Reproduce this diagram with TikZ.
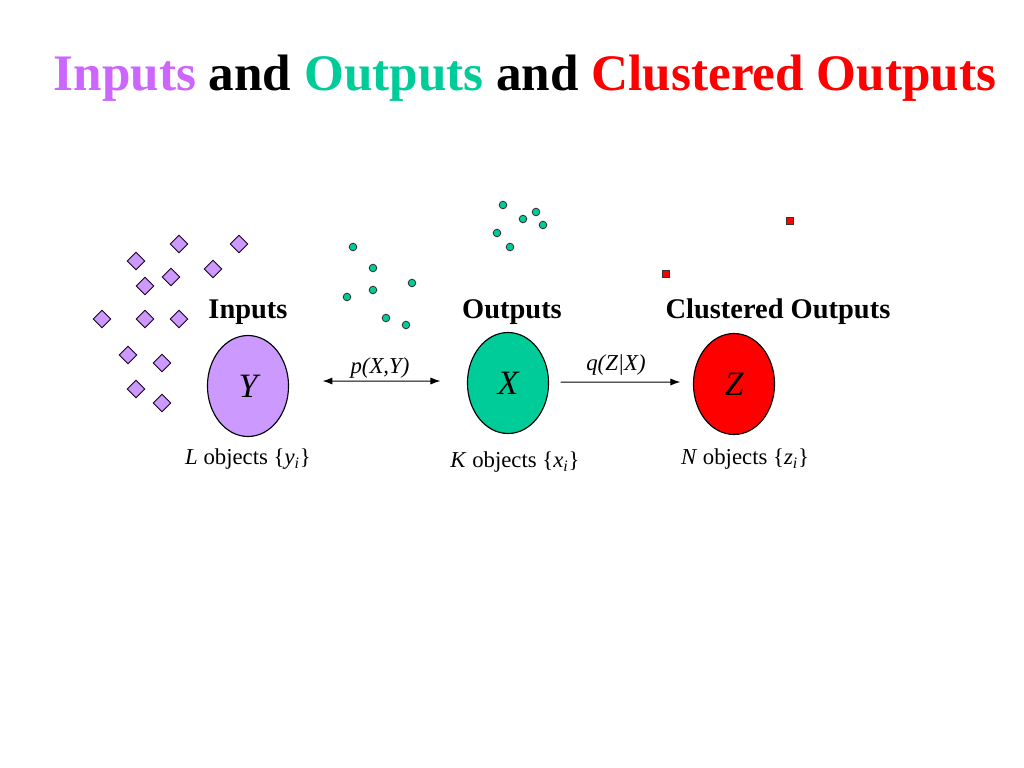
\documentclass[tikz,border=0pt]{standalone}
\usepackage{fontspec}
\setmainfont{Liberation Serif}
\usetikzlibrary{positioning,arrows.meta,shapes.geometric}
\definecolor{inviolet}{HTML}{CC99FF}
\definecolor{titleviolet}{HTML}{CC66FF}
\definecolor{outgreen}{HTML}{00CC99}
\definecolor{clusred}{HTML}{FF0000}

\begin{document}
\begin{tikzpicture}[x=0.703pt, y=-0.703pt,
    every node/.style={font=\fontsize{16}{19}\selectfont},
    var/.style={ellipse, draw=black, line width=0.8pt, minimum width=57pt, minimum height=71pt, inner sep=0pt, font=\fontsize{24}{28}\selectfont\itshape},
    head/.style={font=\fontsize{20}{24}\selectfont\bfseries},
    objs/.style={font=\fontsize{16}{19}\selectfont},
    rel/.style={font=\fontsize{16}{19}\selectfont\itshape},
    tip/.style={line width=0.7pt}]
    \useasboundingbox (0,0) rectangle (1024,768);
    % title
    \node (title) at (525,78) {\fontsize{36}{42}\selectfont\bfseries
      \textcolor{titleviolet}{Inputs} and \textcolor{outgreen}{Outputs} and \textcolor{clusred}{Clustered Outputs}};
    % scattered objects
    \foreach \px/\py in {179/244, 239/244, 136/261, 213/269, 171/277, 145/286, 102/319,
                         145/319, 179/319, 128/355, 162/363, 136/389, 162/403}
      \draw[fill=inviolet, draw=black!80!violet, line width=0.6pt]
        (\px,\py) +(-8.7,0) -- +(0,-8.7) -- +(8.7,0) -- +(0,8.7) -- cycle;
    \foreach \px/\py in {353/247, 373/268, 412/283, 347/297, 373/290, 386/318, 406/325,
                         503/205, 536/212, 523/219, 543/225, 497/233, 510/247}
      \draw[fill=outgreen, draw=black!80, line width=0.6pt] (\px,\py) circle (3.8);
    \foreach \px/\py in {790/221, 666/274}
      \draw[fill=clusred, draw=black!80, line width=0.6pt] (\px,\py) +(-3.6,-3.6) rectangle +(3.6,3.6);
    % variables
    \node[var, fill=inviolet] (Y) at (248,386) {Y};
    \node[var, fill=outgreen] (X) at (508,383) {X};
    \node[var, fill=clusred] (Z) at (734,384) {Z};
    \node[head] (inputs) at (248,312) {Inputs};
    \node[head] (outputs) at (512,312) {Outputs};
    \node[head] (clustered) at (778,312) {Clustered Outputs};
    \node[objs] (ly) at (248,459) {\textit{L} objects \{\textit{y}\textsubscript{\textit{i}}\}};
    \node[objs] (kx) at (515,462) {\textit{K} objects \{\textit{x}\textsubscript{\textit{i}}\}};
    \node[objs] (nz) at (745,459) {\textit{N} objects \{\textit{z}\textsubscript{\textit{i}}\}};
    % relations
    \draw[{Latex[length=7pt,width=5pt]}-{Latex[length=7pt,width=5pt]}, tip,
      shorten <=23.5pt, shorten >=18.6pt] ([yshift=3.5pt]Y.east) -- ([yshift=1.4pt]X.west);
    \draw[-{Latex[length=7pt,width=5pt]}, tip,
      shorten <=8.1pt, shorten >=8.8pt] ([yshift=0.7pt]X.east) -- ([yshift=1.4pt]Z.west);
    \node[rel] (pxy) at (380,368) {p(X,Y)};
    \node[rel] (qzx) at (616,365) {q(Z|X)};
  \end{tikzpicture}
\end{document}
